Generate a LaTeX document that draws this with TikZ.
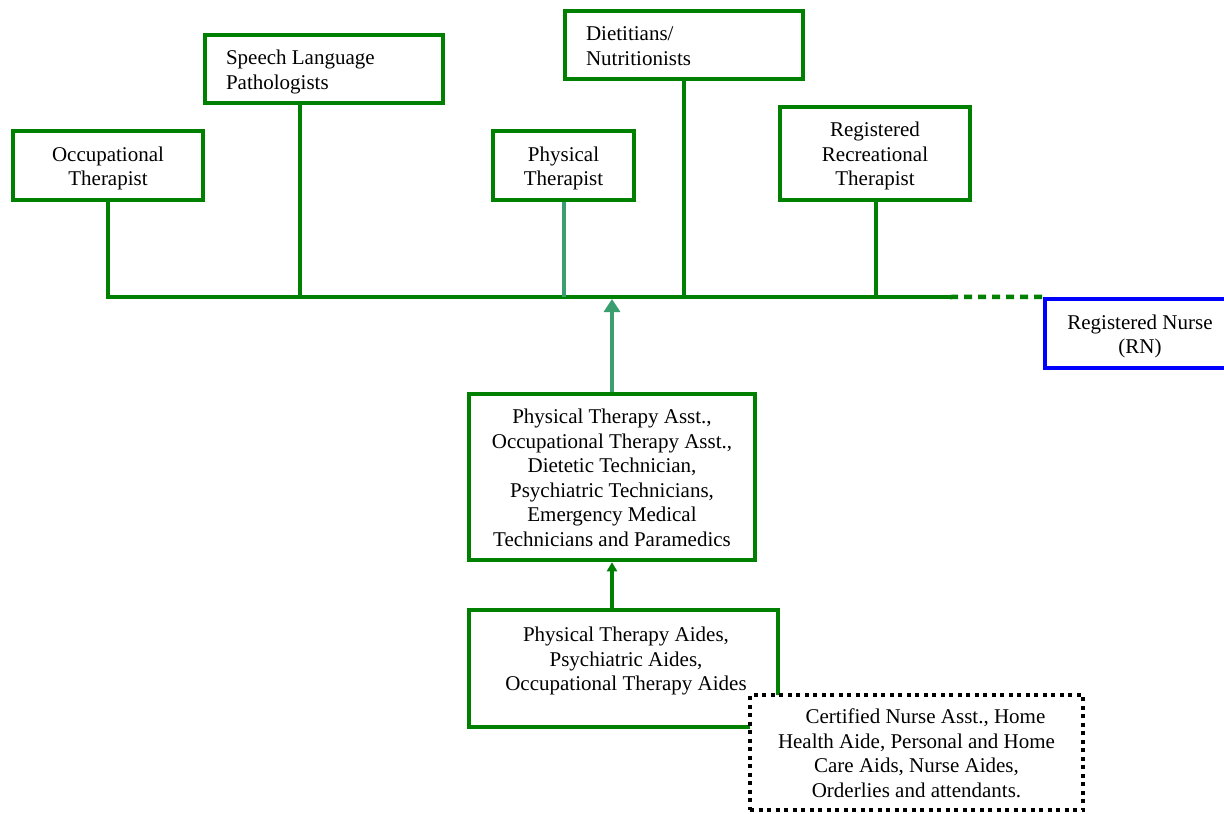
\documentclass[tikz,border=0pt]{standalone}
\usepackage{fontspec}
\setmainfont{Liberation Serif}
\usetikzlibrary{arrows.meta}
\definecolor{grn}{RGB}{0,128,0}
\definecolor{lgrn}{RGB}{58,158,110}
\definecolor{rnblue}{RGB}{0,0,255}
\newcommand{\boxtxtc}[1]{\raisebox{-3pt}[\height][\depth]{\begin{tabular}{@{}c@{}}#1\end{tabular}}}
\newcommand{\boxtxtl}[1]{\raisebox{-3pt}[\height][\depth]{\begin{tabular}{@{}p{196pt}@{}}#1\end{tabular}}}
\begin{document}
\begin{tikzpicture}[x=1pt,y=-1pt,
  every node/.style={font=\fontsize{21}{24.5}\selectfont},
  gbox/.style={draw=grn,line width=4.5pt,fill=white,inner sep=0pt},
  lbox/.style={draw=grn,line width=4.5pt,fill=white,inner xsep=21pt,inner ysep=0pt},
  conn/.style={draw=grn,line width=4.5pt},
  lconn/.style={draw=lgrn,line width=3.5pt}]
\useasboundingbox (0,0) rectangle (1224,814);
\clip (0,0) rectangle (1224,814);
% bus coordinates
\coordinate (busL) at (106,297);
\coordinate (busR) at (950,297);
\coordinate (slpfoot) at (300,297);
\coordinate (ptfoot) at (564,297);
\coordinate (rrtfoot) at (876,297);
\coordinate (arrtip) at (612,299);
% boxes
\node[gbox,minimum width=190pt,minimum height=69pt] (ot) at (108,165.5) {\boxtxtc{Occupational\\Therapist}};
\node[lbox,minimum height=68pt] (slp) at (324,69) {\boxtxtl{Speech Language\\Pathologists}};
\node[gbox,minimum width=141pt,minimum height=69pt] (pt) at (563.5,165.5) {\boxtxtc{Physical\\Therapist}};
\node[lbox,minimum height=68pt] (diet) at (684,45) {\boxtxtl{Dietitians/\\Nutritionists}};
\node[gbox,minimum width=190pt,minimum height=93pt] (rrt) at (875,153.5) {\boxtxtc{Registered\\Recreational\\Therapist}};
\node[draw=rnblue,line width=4.5pt,fill=white,inner sep=0pt,minimum width=190pt,minimum height=69pt] (rn) at (1140,333.5) {\boxtxtc{Registered Nurse\\(RN)}};
\node[gbox,minimum width=286pt,minimum height=166pt] (mid) at (612,477) {\boxtxtc{Physical Therapy Asst.,\\Occupational Therapy Asst.,\\Dietetic Technician,\\Psychiatric Technicians,\\Emergency Medical\\Technicians and Paramedics}};
\node[gbox,minimum width=309pt,minimum height=117pt] (bot) at (623.5,668.5) {};
\node[inner sep=0pt] (bottxt) at (626,658.5) {\boxtxtc{Physical Therapy Aides,\\Psychiatric Aides,\\Occupational Therapy Aides}};
\node[draw=black,line width=4.5pt,dash pattern=on 4pt off 4.5pt,fill=white,inner sep=0pt,minimum width=333pt,minimum height=115pt] (cna) at (916.5,752.5) {\boxtxtc{\hspace*{18pt}Certified Nurse Asst., Home\\Health Aide, Personal and Home\\Care Aids, Nurse Aides,\\Orderlies and attendants.}};
% bus
\draw[conn] (busL) -- (busR);
\draw[conn,dash pattern=on 8pt off 6pt] (busR) -- (rn.north west);
% drops
\draw[conn] (ot.south) -- (ot.south |- busL);
\draw[conn] (slp.south -| slpfoot) -- (slpfoot);
\draw[lconn] (pt.south -| ptfoot) -- (ptfoot);
\draw[conn] (diet.south) -- (diet.south |- busL);
\draw[conn] (rrt.south -| rrtfoot) -- (rrtfoot);
% arrows
\draw[draw=lgrn,line width=4pt,-{Triangle[width=16pt,length=13pt]}] (mid.north) -- (arrtip);
\draw[conn,-{Triangle[width=10pt,length=9pt]}] (bot.north -| mid.south) -- (mid.south);
\end{tikzpicture}
\end{document}
